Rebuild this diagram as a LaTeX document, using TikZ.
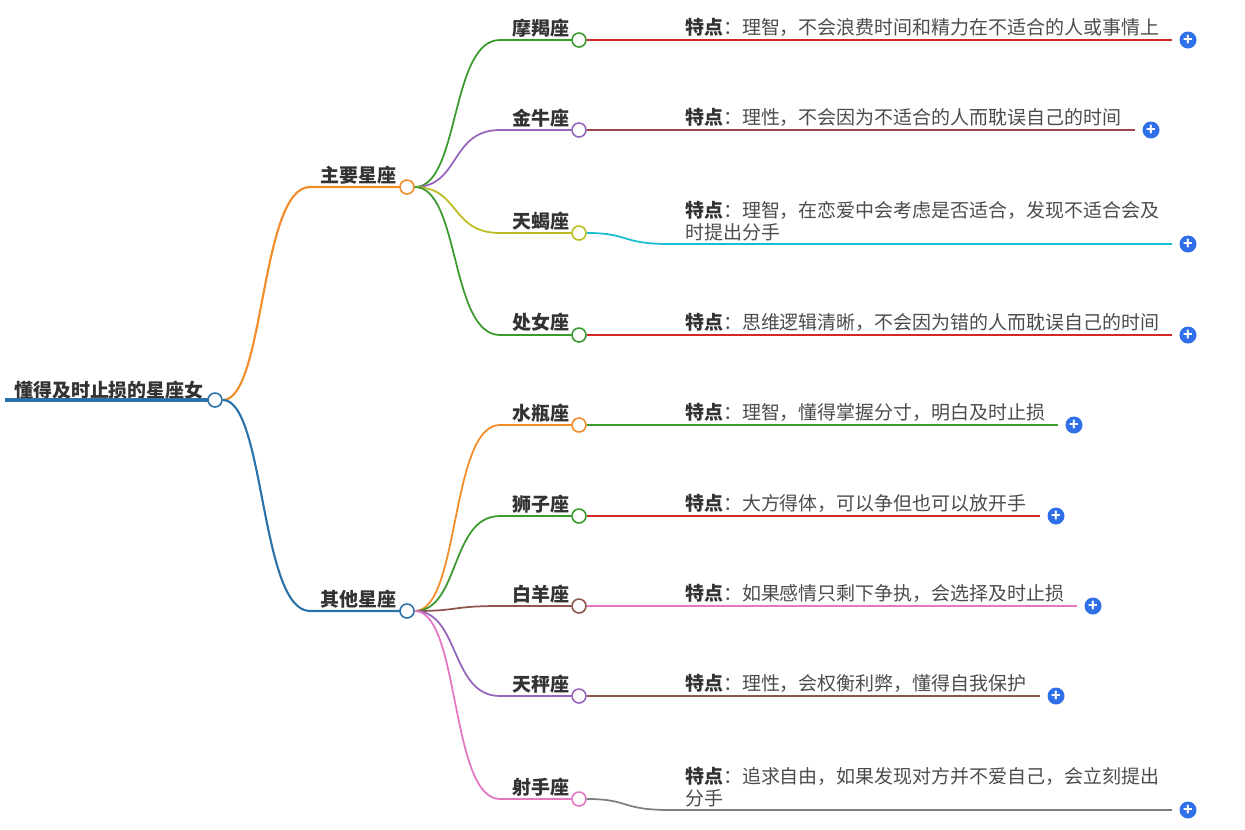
\documentclass[tikz,border=0pt]{standalone}
\usepackage{fontspec}
\setmainfont{Noto Sans CJK SC}
\usetikzlibrary{positioning}
\definecolor{cblue}{HTML}{2A72A8}
\definecolor{corange}{HTML}{F28C28}
\definecolor{cgreen}{HTML}{3A9A2E}
\definecolor{cpurple}{HTML}{9467BD}
\definecolor{colive}{HTML}{BCBD22}
\definecolor{cbrown}{HTML}{8C564B}
\definecolor{cpink}{HTML}{E377C2}
\definecolor{cred}{HTML}{D62728}
\definecolor{cdred}{HTML}{A0454E}
\definecolor{ccyan}{HTML}{17BECF}
\definecolor{cgray}{HTML}{7F7F7F}
\definecolor{cplus}{HTML}{2F6FE8}
\tikzset{
  knob/.style={circle,draw=#1,fill=white,line width=0.9pt,inner sep=0pt,minimum size=0.28cm},
  plus/.style={circle,fill=cplus,inner sep=0pt,minimum size=0.34cm,text=white,font=\bfseries\fontsize{9}{9}\selectfont},
  lbl/.style={font=\bfseries\fontsize{10.8}{12}\selectfont,text=black!80,anchor=south west,inner sep=1pt},
  note/.style={font=\fontsize{10.8}{12.5}\selectfont,text=black!70,anchor=south west,align=left,inner sep=1pt}
}
\begin{document}
\begin{tikzpicture}[x=0.02cm,y=-0.02cm]
  \useasboundingbox (0,0) rectangle (1245,829);
  % root
  \node[lbl] (root) at (12,402) {懂得及时止损的星座女};
  \draw[cblue,line width=2pt] (5,400) -- (209,400);
  \node[knob=cblue] (rk) at (215,400) {};
  % branches
  \foreach \name/\txt/\y/\col in {main/主要星座/187/corange, other/其他星座/611/cblue}{
    \node[lbl] (\name) at (318,\y-1) {\txt};
    \draw[\col,line width=1.2pt] (rk) .. controls (265,400) and (260,\y) .. (310,\y) -- (400,\y);
    \node[knob=\col] (\name k) at (407,\y) {};
  }
  % leaves
  \foreach \br/\py/\txt/\y/\lcol/\dy/\dcol/\dx/\note in {
    main/187/摩羯座/40/cgreen/40/cred/1172/{理智，不会浪费时间和精力在不适合的人或事情上},
    main/187/金牛座/130/cpurple/130/cdred/1135/{理性，不会因为不适合的人而耽误自己的时间},
    main/187/天蝎座/233/colive/244/ccyan/1172/{理智，在恋爱中会考虑是否适合，发现不适合会及\\时提出分手},
    main/187/处女座/335/cgreen/335/cred/1172/{思维逻辑清晰，不会因为错的人而耽误自己的时间},
    other/611/水瓶座/425/corange/425/cgreen/1058/{理智，懂得掌握分寸，明白及时止损},
    other/611/狮子座/516/cgreen/516/cred/1040/{大方得体，可以争但也可以放开手},
    other/611/白羊座/606/cbrown/606/cpink/1077/{如果感情只剩下争执，会选择及时止损},
    other/611/天秤座/696/cpurple/696/cbrown/1040/{理性，会权衡利弊，懂得自我保护},
    other/611/射手座/799/cpink/810/cgray/1172/{追求自由，如果发现对方并不爱自己，会立刻提出\\分手}}{
    \draw[\lcol,line width=1pt] (\br k) .. controls (460,\py) and (450,\y) .. (500,\y) -- (572,\y);
    \node[knob=\lcol] (k\y) at (579,\y) {};
    \node[lbl] at (510,\y-1) {\txt};
    \draw[\dcol,line width=1pt] (k\y) .. controls (630,\y) and (620,\dy) .. (670,\dy) -- (\dx,\dy);
    \node[note] at (683,\dy-1) {\textbf{\textcolor{black!80}{特点}}：\note};
    \node[plus] (p\y) at (\dx+16,\dy) {+};
  }
\end{tikzpicture}
\end{document}
